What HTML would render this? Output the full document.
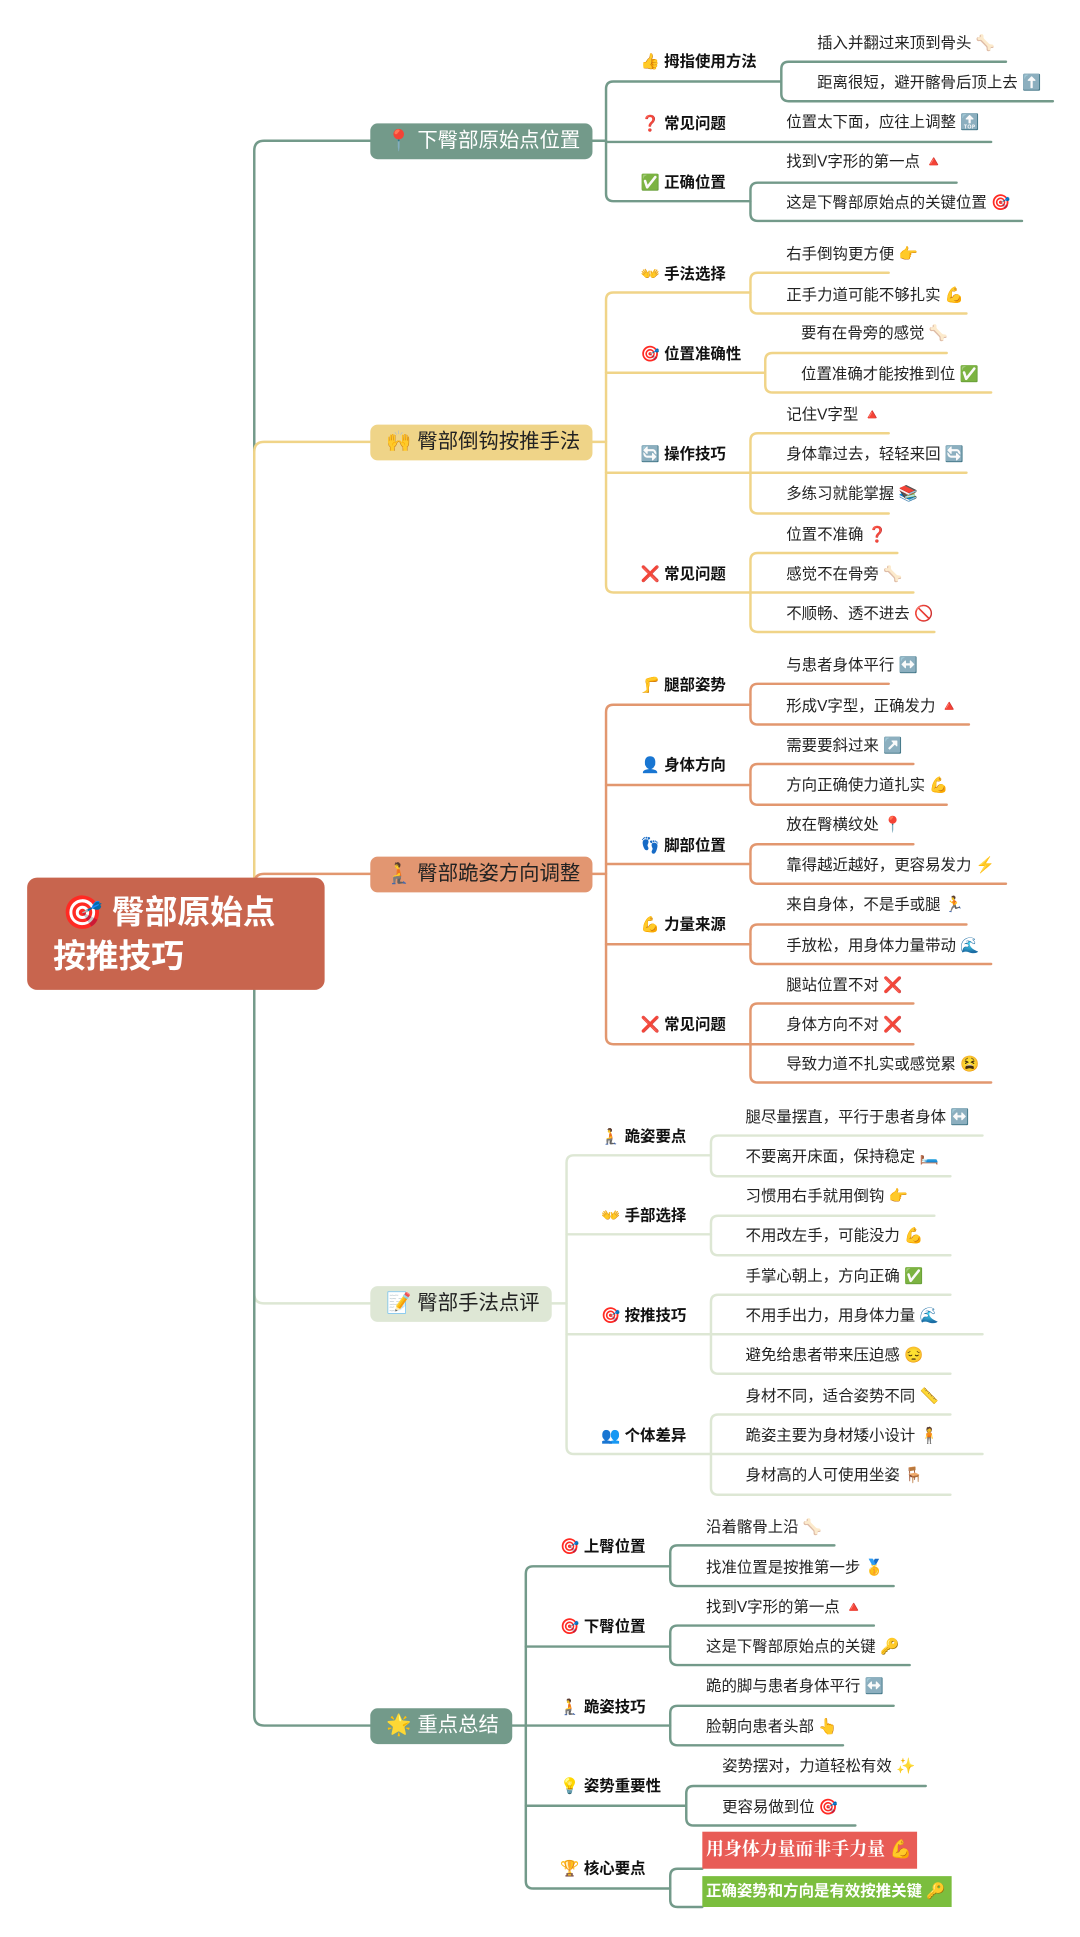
<!DOCTYPE html>
<html><head><meta charset="utf-8"><style>
html,body{margin:0;padding:0;background:#fff;width:1080px;height:1936px;overflow:hidden}
#c{position:absolute;left:0;top:0;width:875px;height:1569px;transform:scale(1.2343);transform-origin:0 0;font-family:"Liberation Sans","Noto Sans CJK SC",sans-serif}
.t{position:absolute;white-space:nowrap;line-height:16px;font-size:12.5px;color:#222}
.s{font-weight:bold;color:#111}
.m{position:absolute;height:29px;border-radius:6px;line-height:29px;font-size:16.5px;white-space:nowrap;box-sizing:border-box;padding-left:13px}
svg{position:absolute;left:0;top:0}
</style></head><body><div id="c">
<svg width="875" height="1569" fill="none" stroke-width="2" stroke-linecap="round">
<!-- trunk -->
<path d="M206 757 V1048 Q206 1056 214 1056 H300" stroke="#DDE7D4"/>
<path d="M206 757 V1390 Q206 1398 214 1398 H300" stroke="#739A8A"/>
<path d="M206 757 V122 Q206 114 214 114 H300" stroke="#739A8A"/>
<path d="M206 757 V366 Q206 358 214 358 H300" stroke="#F0D488"/>
<path d="M206 757 V716 Q206 708 214 708 H300" stroke="#E2976F"/>
<!-- node1 -->
<g stroke="#739A8A">
<path d="M480 114 H491"/>
<path d="M633 66 H497 Q491 66 491 72 V157 Q491 163 497 163 H608"/>
<path d="M491 115 H803"/>
<path d="M815 50 H639 Q633 50 633 56 V76 Q633 82 639 82 H853"/>
<path d="M775 148 H614 Q608 148 608 154 V173 Q608 179 614 179 H828"/>
</g>
<!-- node2 -->
<g stroke="#F0D488">
<path d="M480 358 H491"/>
<path d="M608 237 H497 Q491 237 491 243 V474 Q491 480 497 480 H608"/>
<path d="M491 302 H620"/><path d="M491 383 H608"/>
<path d="M720 221 H614 Q608 221 608 227 V248 Q608 254 614 254 H783"/>
<path d="M767 286 H626 Q620 286 620 292 V312 Q620 318 626 318 H803"/>
<path d="M720 351 H614 Q608 351 608 357 V410 Q608 416 614 416 H720"/><path d="M608 383 H783"/>
<path d="M727 448 H614 Q608 448 608 454 V506 Q608 512 614 512 H757"/><path d="M608 480 H740"/>
</g>
<!-- node3 -->
<g stroke="#E2976F">
<path d="M480 708 H491"/>
<path d="M608 571 H497 Q491 571 491 577 V840 Q491 846 497 846 H608"/>
<path d="M491 636 H608"/><path d="M491 700 H608"/><path d="M491 765 H608"/>
<path d="M720 554 H614 Q608 554 608 560 V581 Q608 587 614 587 H785"/>
<path d="M740 619 H614 Q608 619 608 625 V646 Q608 652 614 652 H767"/>
<path d="M740 684 H614 Q608 684 608 690 V710 Q608 716 614 716 H815"/>
<path d="M783 749 H614 Q608 749 608 755 V775 Q608 781 614 781 H803"/>
<path d="M740 813 H614 Q608 813 608 819 V871 Q608 877 614 877 H803"/><path d="M608 846 H740"/>
</g>
<!-- node4 -->
<g stroke="#DDE7D4">
<path d="M447 1056 H459"/>
<path d="M576 936 H465 Q459 936 459 942 V1172 Q459 1178 465 1178 H576"/>
<path d="M459 1000 H576"/><path d="M459 1081 H576"/>
<path d="M796 920 H582 Q576 920 576 926 V947 Q576 953 582 953 H770"/>
<path d="M757 985 H582 Q576 985 576 991 V1011 Q576 1017 582 1017 H770"/>
<path d="M770 1049 H582 Q576 1049 576 1055 V1107 Q576 1113 582 1113 H770"/><path d="M576 1081 H796"/>
<path d="M770 1146 H582 Q576 1146 576 1152 V1205 Q576 1211 582 1211 H770"/><path d="M576 1178 H796"/>
</g>
<!-- node5 -->
<g stroke="#739A8A">
<path d="M415 1398 H426"/>
<path d="M543 1269 H432 Q426 1269 426 1275 V1524 Q426 1530 432 1530 H543"/>
<path d="M426 1334 H543"/><path d="M426 1398 H543"/><path d="M426 1463 H556"/>
<path d="M676 1252 H549 Q543 1252 543 1258 V1279 Q543 1285 549 1285 H724"/>
<path d="M708 1317 H549 Q543 1317 543 1323 V1343 Q543 1349 549 1349 H737"/>
<path d="M724 1382 H549 Q543 1382 543 1388 V1408 Q543 1414 549 1414 H683"/>
<path d="M750 1447 H562 Q556 1447 556 1453 V1473 Q556 1479 562 1479 H693"/>
<path d="M569 1514 H549 Q543 1514 543 1520 V1539 Q543 1545 549 1545 H569"/>
</g>
</svg>

<!-- root -->
<div style="position:absolute;left:22px;top:711px;width:241px;height:91px;background:#C8654E;border-radius:8px;color:#fff;font-weight:bold;font-size:26.5px;line-height:36px;box-sizing:border-box;padding:10px 0 0 21px">&nbsp;🎯 臀部原始点<br>按推技巧</div>

<!-- main nodes -->
<div class="m" style="left:300px;top:100px;width:180px;background:#739A8A;color:#fff">📍 下臀部原始点位置</div>
<div class="m" style="left:300px;top:344px;width:180px;background:#EFD488;color:#222">🙌 臀部倒钩按推手法</div>
<div class="m" style="left:300px;top:694px;width:180px;background:#E29671;color:#222">🧎 臀部跪姿方向调整</div>
<div class="m" style="left:300px;top:1042px;width:147px;background:#DEE7D5;color:#222">📝 臀部手法点评</div>
<div class="m" style="left:300px;top:1384px;width:115px;background:#739A8A;color:#fff">🌟 重点总结</div>

<!-- node1 -->
<div class="t s" style="left:519px;top:42px">👍 拇指使用方法</div>
<div class="t s" style="left:519px;top:92px">❓ 常见问题</div>
<div class="t s" style="left:519px;top:140px">✅ 正确位置</div>
<div class="t" style="left:662px;top:27px">插入并翻过来顶到骨头 🦴</div>
<div class="t" style="left:662px;top:59px">距离很短，避开髂骨后顶上去 ⬆️</div>
<div class="t" style="left:637px;top:91px">位置太下面，应往上调整 🔝</div>
<div class="t" style="left:637px;top:123px">找到V字形的第一点 🔺</div>
<div class="t" style="left:637px;top:156px">这是下臀部原始点的关键位置 🎯</div>

<!-- node2 -->
<div class="t s" style="left:519px;top:214px">👐 手法选择</div>
<div class="t s" style="left:519px;top:279px">🎯 位置准确性</div>
<div class="t s" style="left:519px;top:360px">🔄 操作技巧</div>
<div class="t s" style="left:519px;top:457px">❌ 常见问题</div>
<div class="t" style="left:637px;top:198px">右手倒钩更方便 👉</div>
<div class="t" style="left:637px;top:231px">正手力道可能不够扎实 💪</div>
<div class="t" style="left:649px;top:262px">要有在骨旁的感觉 🦴</div>
<div class="t" style="left:649px;top:295px">位置准确才能按推到位 ✅</div>
<div class="t" style="left:637px;top:328px">记住V字型 🔺</div>
<div class="t" style="left:637px;top:360px">身体靠过去，轻轻来回 🔄</div>
<div class="t" style="left:637px;top:392px">多练习就能掌握 📚</div>
<div class="t" style="left:637px;top:425px">位置不准确 ❓</div>
<div class="t" style="left:637px;top:457px">感觉不在骨旁 🦴</div>
<div class="t" style="left:637px;top:489px">不顺畅、透不进去 🚫</div>

<!-- node3 -->
<div class="t s" style="left:519px;top:547px">🦵 腿部姿势</div>
<div class="t s" style="left:519px;top:612px">👤 身体方向</div>
<div class="t s" style="left:519px;top:677px">👣 脚部位置</div>
<div class="t s" style="left:519px;top:741px">💪 力量来源</div>
<div class="t s" style="left:519px;top:822px">❌ 常见问题</div>
<div class="t" style="left:637px;top:531px">与患者身体平行 ↔️</div>
<div class="t" style="left:637px;top:564px">形成V字型，正确发力 🔺</div>
<div class="t" style="left:637px;top:596px">需要要斜过来 ↗️</div>
<div class="t" style="left:637px;top:628px">方向正确使力道扎实 💪</div>
<div class="t" style="left:637px;top:660px">放在臀横纹处 📍</div>
<div class="t" style="left:637px;top:693px">靠得越近越好，更容易发力 ⚡</div>
<div class="t" style="left:637px;top:725px">来自身体，不是手或腿 🏃</div>
<div class="t" style="left:637px;top:758px">手放松，用身体力量带动 🌊</div>
<div class="t" style="left:637px;top:790px">腿站位置不对 ❌</div>
<div class="t" style="left:637px;top:822px">身体方向不对 ❌</div>
<div class="t" style="left:637px;top:854px">导致力道不扎实或感觉累 😫</div>

<!-- node4 -->
<div class="t s" style="left:487px;top:913px">🧎 跪姿要点</div>
<div class="t s" style="left:487px;top:977px">👐 手部选择</div>
<div class="t s" style="left:487px;top:1058px">🎯 按推技巧</div>
<div class="t s" style="left:487px;top:1155px">👥 个体差异</div>
<div class="t" style="left:604px;top:897px">腿尽量摆直，平行于患者身体 ↔️</div>
<div class="t" style="left:604px;top:929px">不要离开床面，保持稳定 🛏️</div>
<div class="t" style="left:604px;top:961px">习惯用右手就用倒钩 👉</div>
<div class="t" style="left:604px;top:993px">不用改左手，可能没力 💪</div>
<div class="t" style="left:604px;top:1026px">手掌心朝上，方向正确 ✅</div>
<div class="t" style="left:604px;top:1058px">不用手出力，用身体力量 🌊</div>
<div class="t" style="left:604px;top:1090px">避免给患者带来压迫感 😔</div>
<div class="t" style="left:604px;top:1123px">身材不同，适合姿势不同 📏</div>
<div class="t" style="left:604px;top:1155px">跪姿主要为身材矮小设计 🧍</div>
<div class="t" style="left:604px;top:1187px">身材高的人可使用坐姿 🪑</div>

<!-- node5 -->
<div class="t s" style="left:454px;top:1245px">🎯 上臀位置</div>
<div class="t s" style="left:454px;top:1310px">🎯 下臀位置</div>
<div class="t s" style="left:454px;top:1375px">🧎 跪姿技巧</div>
<div class="t s" style="left:454px;top:1439px">💡 姿势重要性</div>
<div class="t s" style="left:454px;top:1506px">🏆 核心要点</div>
<div class="t" style="left:572px;top:1229px">沿着髂骨上沿 🦴</div>
<div class="t" style="left:572px;top:1262px">找准位置是按推第一步 🥇</div>
<div class="t" style="left:572px;top:1294px">找到V字形的第一点 🔺</div>
<div class="t" style="left:572px;top:1326px">这是下臀部原始点的关键 🔑</div>
<div class="t" style="left:572px;top:1358px">跪的脚与患者身体平行 ↔️</div>
<div class="t" style="left:572px;top:1391px">脸朝向患者头部 👆</div>
<div class="t" style="left:585px;top:1423px">姿势摆对，力道轻松有效 ✨</div>
<div class="t" style="left:585px;top:1456px">更容易做到位 🎯</div>
<div style="position:absolute;left:569px;top:1484px;width:174px;height:30px;background:#E85C56;color:#fff;font-family:'Liberation Serif','Noto Serif CJK SC',serif;font-weight:bold;font-size:14.5px;line-height:30px;padding-left:3px;box-sizing:border-box;white-space:nowrap">用身体力量而非手力量 💪</div>
<div style="position:absolute;left:569px;top:1520px;width:202px;height:25px;background:#7BBE3E;color:#fff;font-weight:bold;font-size:12.5px;line-height:25px;padding-left:3px;box-sizing:border-box;white-space:nowrap">正确姿势和方向是有效按推关键 🔑</div>
</div></body></html>
